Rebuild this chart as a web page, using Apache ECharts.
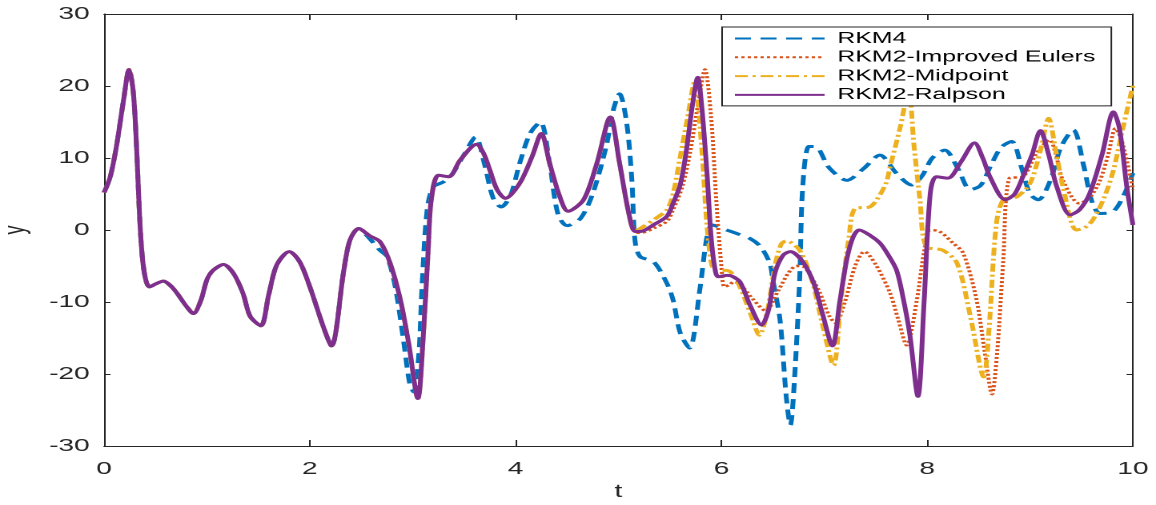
<!DOCTYPE html>
<html>
<head>
<meta charset="utf-8">
<script src="https://cdn.jsdelivr.net/npm/echarts@6/dist/echarts.min.js"></script>
<style>
  html, body { margin: 0; padding: 0; background: #fff; overflow: hidden; }
  /* the reference figure is stretched horizontally, so the chart is drawn narrow and widened */
  #main { width: 722px; height: 505px; transform-origin: 0 0; }
</style>
</head>
<body>
<div id="main"></div>
<script>
// y(t), [t, y]
// all four methods agree up to t ~ 2.5
const sharedStart = [[0, 5.2], [0.06, 7.4], [0.12, 11.6], [0.19, 18.1], [0.243, 22.3], [0.285, 19.0], [0.317, 11.1], [0.345, 2.0], [0.37, -3.5], [0.40, -6.6], [0.44, -7.9], [0.5, -7.5], [0.577, -7.1], [0.65, -7.8], [0.71, -8.8], [0.80, -10.6], [0.868, -11.6], [0.94, -9.8], [1.0, -6.9], [1.06, -5.6], [1.16, -4.8], [1.256, -6.0], [1.35, -8.8], [1.42, -12.0], [1.523, -13.3], [1.6, -9.0], [1.68, -4.8], [1.80, -3.0], [1.9, -4.4], [2.0, -7.9], [2.13, -13.4], [2.21, -16.1], [2.33, -5.6], [2.39, -1.4], [2.475, 0.2]]

const rkm4Tail = [[2.55, -0.7], [2.68, -2.8], [2.75, -3.7], [2.83, -7.9], [2.91, -15.3], [2.97, -21.3], [3.01, -22.5], [3.06, -17.1], [3.09, -7.9], [3.14, 2.8], [3.2, 6.0], [3.30, 6.7], [3.39, 7.9], [3.5, 10.5], [3.61, 12.9], [3.70, 9.0], [3.78, 4.5], [3.86, 3.2], [3.95, 4.8], [4.04, 9.3], [4.14, 13.4], [4.24, 15.0], [4.33, 9.3], [4.41, 2.3], [4.50, 0.6], [4.63, 1.6], [4.75, 5.1], [4.88, 11.6], [4.95, 16.7], [5.01, 18.9], [5.08, 14.8], [5.13, 6.9], [5.16, -1.4], [5.21, -3.7], [5.34, -4.4], [5.47, -7.4], [5.53, -9.7], [5.60, -14.3], [5.69, -16.4], [5.79, -8.3], [5.86, -0.9], [5.91, 0.7], [6.05, 0.0], [6.15, -0.5], [6.28, -1.2], [6.38, -2.3], [6.47, -4.6], [6.50, -6.9], [6.57, -12.5], [6.63, -23.1], [6.67, -27.1], [6.71, -20.8], [6.76, -6.9], [6.79, 6.0], [6.85, 11.6], [6.91, 11.6], [7.05, 8.6], [7.22, 6.9], [7.38, 8.5], [7.54, 10.4], [7.70, 7.9], [7.85, 6.25], [7.95, 7.5], [8.05, 10.0], [8.17, 11.1], [8.30, 8.5], [8.42, 5.6], [8.52, 6.2], [8.62, 9.0], [8.72, 11.5], [8.82, 12.3], [8.92, 8.5], [9.0, 5.0], [9.08, 4.2], [9.2, 7.0], [9.3, 11.5], [9.42, 13.9], [9.52, 9.0], [9.60, 4.0], [9.68, 2.3], [9.8, 2.5], [9.9, 4.5], [10, 7.9]]

// the three RKM2 variants agree up to t ~ 5.2
const rkm2Common = [[2.58, -0.8], [2.68, -1.6], [2.78, -4.6], [2.88, -9.7], [2.96, -15.7], [3.05, -23.4], [3.10, -15.3], [3.15, -2.8], [3.18, 4.2], [3.25, 7.6], [3.35, 7.4], [3.46, 9.7], [3.62, 11.9], [3.69, 10.6], [3.75, 8.3], [3.82, 5.6], [3.90, 4.4], [4.04, 6.5], [4.16, 10.2], [4.25, 13.4], [4.33, 9.3], [4.43, 4.6], [4.51, 2.6], [4.66, 4.2], [4.79, 9.3], [4.92, 15.7], [5.01, 9.3], [5.10, 2.3], [5.16, -0.2]]

const eulerTail = [[5.21, -0.4], [5.35, 0.3], [5.47, 1.2], [5.53, 2.8], [5.62, 6.0], [5.70, 11.1], [5.78, 18.1], [5.84, 22.3], [5.90, 15.7], [5.95, 4.2], [6.0, -5.1], [6.03, -7.9], [6.08, -7.6], [6.12, -7.2], [6.18, -7.5], [6.30, -9.5], [6.43, -11.2], [6.55, -8.5], [6.65, -6.0], [6.73, -5.0], [6.81, -5.2], [6.95, -8.5], [7.05, -12.0], [7.11, -12.9], [7.20, -10.0], [7.30, -5.0], [7.39, -3.0], [7.50, -4.8], [7.64, -8.8], [7.72, -12.5], [7.80, -16.0], [7.90, -9.7], [7.97, -3.0], [8.03, 0.0], [8.12, -0.2], [8.25, -1.8], [8.35, -3.2], [8.48, -9.7], [8.56, -17.0], [8.63, -22.8], [8.68, -17.0], [8.74, -4.2], [8.80, 7.2], [8.93, 7.4], [9.06, 10.6], [9.19, 12.5], [9.25, 10.5], [9.32, 6.9], [9.48, 3.7], [9.58, 4.5], [9.68, 6.9], [9.76, 10.5], [9.83, 14.1], [9.90, 12.0], [10, 5.6]]

const midpointTail = [[5.21, 0.2], [5.35, 1.5], [5.47, 2.8], [5.53, 5.0], [5.60, 10.2], [5.67, 15.5], [5.74, 20.6], [5.81, 11.1], [5.87, -0.9], [5.94, -5.6], [6.05, -5.6], [6.10, -6.0], [6.18, -7.9], [6.28, -11.5], [6.37, -14.6], [6.45, -11.0], [6.52, -5.0], [6.58, -2.0], [6.63, -1.5], [6.76, -2.8], [6.88, -7.0], [6.98, -13.0], [7.09, -18.8], [7.16, -10.0], [7.24, -1.0], [7.30, 3.0], [7.44, 3.2], [7.51, 4.2], [7.60, 6.5], [7.64, 8.8], [7.74, 14.4], [7.82, 19.5], [7.87, 12.0], [7.93, 4.2], [7.99, -2.3], [8.15, -2.8], [8.29, -4.6], [8.42, -12.0], [8.55, -20.4], [8.60, -14.0], [8.67, 0.5], [8.74, 4.2], [8.87, 4.6], [9.0, 6.5], [9.10, 11.0], [9.18, 15.5], [9.25, 11.0], [9.32, 6.0], [9.45, 0.0], [9.53, 0.3], [9.61, 1.4], [9.72, 4.5], [9.81, 8.3], [9.90, 14.0], [10, 20.1]]

const ralpsonTail = [[5.21, -0.2], [5.35, 0.8], [5.47, 1.9], [5.53, 3.7], [5.60, 6.3], [5.66, 11.1], [5.72, 17.5], [5.77, 21.2], [5.81, 17.0], [5.86, 7.9], [5.90, -1.0], [5.94, -5.6], [5.97, -6.5], [6.05, -6.3], [6.10, -6.4], [6.18, -7.2], [6.28, -10.5], [6.39, -13.2], [6.46, -11.0], [6.52, -6.0], [6.60, -3.5], [6.67, -3.0], [6.79, -4.4], [6.90, -7.5], [6.98, -11.5], [7.08, -16.1], [7.15, -10.0], [7.22, -4.0], [7.28, -1.0], [7.34, 0.0], [7.45, -0.8], [7.54, -1.8], [7.61, -3.2], [7.70, -5.5], [7.76, -9.0], [7.83, -14.4], [7.91, -23.1], [7.97, -10.0], [8.03, 5.1], [8.09, 7.4], [8.20, 7.2], [8.33, 9.5], [8.46, 12.1], [8.54, 10.0], [8.61, 7.4], [8.76, 4.2], [8.85, 5.0], [8.93, 7.4], [9.02, 10.5], [9.10, 13.8], [9.18, 10.5], [9.26, 6.0], [9.39, 2.1], [9.48, 2.8], [9.58, 5.1], [9.70, 10.5], [9.81, 16.4], [9.87, 14.0], [9.94, 6.0], [10, 0.7]]

const names = ['RKM4', 'RKM2-Improved Eulers', 'RKM2-Midpoint', 'RKM2-Ralpson']
const xTicks = { min: 0, max: 10, step: 2 }
const yTicks = { min: -30, max: 30, step: 10 }

const S = 1156 / 722
const el = document.getElementById('main')
el.style.transform = 'scaleX(' + S + ')'

const myChart = echarts.init(el, null, { renderer: 'canvas', devicePixelRatio: 2 })

const axisColor = '#262626'
const font = 'Liberation Sans, Arial, Helvetica, sans-serif'

function axis (pos, ticks, show, extra) {
  return Object.assign({
    type: 'value',
    position: pos,
    min: ticks.min,
    max: ticks.max,
    interval: ticks.step,
    axisLine: { show: true, onZero: false, lineStyle: { color: axisColor, width: 1 } },
    axisTick: { show: true, inside: true, length: pos === 'left' || pos === 'right' ? 4 : 6, lineStyle: { color: axisColor, width: 1 } },
    splitLine: { show: false },
    axisLabel: { show: show, color: axisColor, fontSize: 17.5, fontFamily: font }
  }, extra || {})
}

function lineSeries (name, data, color, width, type) {
  return {
    name: name,
    type: 'line',
    data: data,
    smooth: 0.3,
    symbol: 'none',
    showSymbol: false,
    color: color,
    lineStyle: { color: color, width: width, type: type, cap: 'butt' },
    animation: false
  }
}

const option = {
  animation: false,
  backgroundColor: '#fff',
  grid: { left: 65, right: 14.4, top: 14, bottom: 59, containLabel: false, outerBoundsMode: 'none' },
  xAxis: [
    axis('bottom', xTicks, true, {
      name: 't',
      nameLocation: 'middle',
      nameGap: 37,
      nameTextStyle: { color: axisColor, fontSize: 18, fontFamily: font },
      axisLabel: { show: true, color: axisColor, fontSize: 17.5, fontFamily: font, margin: 14 }
    }),
    axis('top', xTicks, false)
  ],
  yAxis: [
    axis('left', yTicks, true, {
      name: 'y',
      nameLocation: 'middle',
      nameGap: 46,
      nameRotate: 90,
      nameTextStyle: { color: axisColor, fontSize: 18, fontFamily: font },
      axisLabel: { show: true, color: axisColor, fontSize: 17.5, fontFamily: font, margin: 9 }
    }),
    axis('right', yTicks, false)
  ],
  legend: {
    orient: 'vertical',
    left: 451,
    top: 27,
    data: names,
    itemWidth: 56,
    itemHeight: 15,
    itemGap: 2.8,
    padding: [3.5, 10, 3, 7],
    backgroundColor: '#fff',
    borderColor: axisColor,
    borderWidth: 1,
    borderRadius: 0,
    // line sample only, no marker in the middle
    itemStyle: { color: 'rgba(0,0,0,0)', borderColor: 'rgba(0,0,0,0)', borderWidth: 0, opacity: 0 },
    textStyle: { color: '#000', fontSize: 15.5, fontFamily: font, padding: [0, 0, 0, 3] }
  },
  series: [
    lineSeries(names[0], sharedStart.concat(rkm4Tail), '#0072BD', 3, [10, 6]),
    lineSeries(names[1], sharedStart.concat(rkm2Common, eulerTail), '#D95319', 2.5, [2, 2]),
    lineSeries(names[2], sharedStart.concat(rkm2Common, midpointTail), '#EDB120', 3, [8, 3, 2, 3]),
    lineSeries(names[3], sharedStart.concat(rkm2Common, ralpsonTail), '#7E2F8E', 3, 'solid')
  ]
}
option && myChart.setOption(option)
</script>
</body>
</html>
